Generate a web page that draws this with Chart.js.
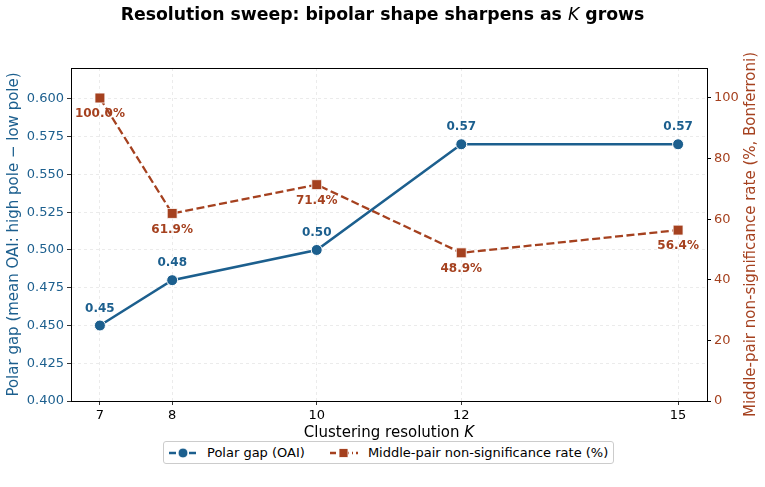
<!DOCTYPE html>
<html>
<head>
<meta charset="utf-8">
<script src="https://cdn.jsdelivr.net/npm/chart.js@4"></script>
<style>
  body { margin: 0; background: #fff; font-family: "DejaVu Sans", sans-serif; }
  #wrap { position: relative; width: 765px; height: 487px; }
  #chart { position: absolute; left: 0; top: 0; }
  #title { position: absolute; left: 0; top: 4px; width: 765px; text-align: center;
           font-weight: bold; font-size: 17.3px; color: #000; }
  #title i { font-weight: normal; }
  #legend { position: absolute; left: 163px; top: 441px; width: 449px; height: 21px;
            border: 1px solid #cccccc; border-radius: 3px; background: #fff;
            font-size: 13px; display: flex; align-items: center; color: #000; }
  #legend span.item { display: inline-flex; align-items: center; margin-left: 4px; }
  #legend svg { margin-right: 9px; }
</style>
</head>
<body>
<div id="wrap">
  <canvas id="chart" width="765" height="487"></canvas>
  <div id="title">Resolution sweep: bipolar shape sharpens as <i>K</i> grows</div>
  <div id="legend">
    <span class="item"><svg width="30" height="12"><line x1="1" y1="6" x2="29" y2="6" stroke="#1c5f8e" stroke-width="2.5" stroke-dasharray="7,3"/><circle cx="15" cy="6" r="5" fill="#1c5f8e" stroke="#fff" stroke-width="1"/></svg>Polar gap (OAI)</span>
    <span class="item" style="margin-left:24px"><svg width="30" height="12"><line x1="1" y1="6" x2="29" y2="6" stroke="#a5411f" stroke-width="2.3" stroke-dasharray="6,3,1,3"/><rect x="10" y="1.5" width="9" height="9" fill="#a5411f" stroke="#fff" stroke-width="0.8"/></svg>Middle-pair non-significance rate (%)</span>
  </div>
</div>
<script>
// Resolution sweep data
const kValues = [7, 8, 10, 12, 15];
const polarGap = [0.45, 0.48, 0.50, 0.57, 0.57];
const nonSigRate = [100.0, 61.9, 71.4, 48.9, 56.4];
const leftTicks = [0.400, 0.425, 0.450, 0.475, 0.500, 0.525, 0.550, 0.575, 0.600];
const rightTicks = [0, 20, 40, 60, 80, 100];

const BLUE = '#1c5f8e';
const RED = '#a5411f';
const FONT = '"DejaVu Sans", sans-serif';

// point value labels + frame + axis titles
const extras = {
    id: 'extras',
    afterDatasetsDraw(chart) {
        const ctx = chart.ctx;
        ctx.save();
        ctx.font = 'bold 12px ' + FONT;
        ctx.textAlign = 'center';
        ctx.textBaseline = 'middle';
        chart.getDatasetMeta(0).data.forEach((pt, i) => {
            ctx.fillStyle = BLUE;
            ctx.fillText(polarGap[i].toFixed(2), pt.x, pt.y - 17);
        });
        chart.getDatasetMeta(1).data.forEach((pt, i) => {
            ctx.fillStyle = RED;
            ctx.fillText(nonSigRate[i].toFixed(1) + '%', pt.x, pt.y + 16);
        });
        ctx.restore();
    },
    afterDraw(chart) {
        const ctx = chart.ctx;
        const a = chart.chartArea;
        ctx.save();
        ctx.strokeStyle = '#000';
        ctx.lineWidth = 1;
        ctx.strokeRect(a.left + 0.5, a.top + 0.5, a.right - a.left, a.bottom - a.top);

        // x title with italic K
        ctx.fillStyle = '#000';
        ctx.textBaseline = 'middle';
        const base = 'Clustering resolution ';
        ctx.font = '15px ' + FONT;
        const w1 = ctx.measureText(base).width;
        ctx.font = 'italic 15px ' + FONT;
        const w2 = ctx.measureText('K').width;
        let x0 = (a.left + a.right) / 2 - (w1 + w2) / 2;
        ctx.font = '15px ' + FONT;
        ctx.textAlign = 'left';
        ctx.fillText(base, x0, 433);
        ctx.font = 'italic 15px ' + FONT;
        ctx.fillText('K', x0 + w1, 433);

        // y titles
        ctx.font = '15px ' + FONT;
        ctx.textAlign = 'center';
        ctx.save();
        ctx.translate(14, (a.top + a.bottom) / 2);
        ctx.rotate(-Math.PI / 2);
        ctx.fillStyle = BLUE;
        ctx.fillText('Polar gap (mean OAI: high pole \u2212 low pole)', 0, 0);
        ctx.restore();
        ctx.save();
        ctx.translate(751, (a.top + a.bottom) / 2);
        ctx.rotate(-Math.PI / 2);
        ctx.fillStyle = RED;
        ctx.fillText('Middle-pair non-significance rate (%, Bonferroni)', 0, 0);
        ctx.restore();
        ctx.restore();
    }
};

new Chart(document.getElementById('chart'), {
    type: 'line',
    data: {
        datasets: [{
            label: 'Polar gap (OAI)',
            data: kValues.map((k, i) => ({ x: k, y: polarGap[i] })),
            yAxisID: 'y',
            borderColor: BLUE,
            backgroundColor: BLUE,
            borderWidth: 2.5,
            pointStyle: 'circle',
            pointRadius: 5.5,
            pointBorderColor: '#fff',
            pointBorderWidth: 1,
            tension: 0
        }, {
            label: 'Middle-pair non-significance rate (%)',
            data: kValues.map((k, i) => ({ x: k, y: nonSigRate[i] })),
            yAxisID: 'y2',
            borderColor: RED,
            backgroundColor: RED,
            borderWidth: 2.3,
            borderDash: [8, 3.5],
            pointStyle: 'rect',
            pointRadius: 7,
            pointBorderColor: '#fff',
            pointBorderWidth: 0.8,
            tension: 0
        }]
    },
    options: {
        responsive: false,
        animation: false,
        layout: { padding: { top: 68, left: 0, right: 0, bottom: 0 } },
        plugins: {
            legend: { display: false },
            tooltip: { enabled: false }
        },
        scales: {
            x: {
                type: 'linear',
                min: 6.6,
                max: 15.4,
                afterBuildTicks: s => { s.ticks = kValues.map(v => ({ value: v })); },
                afterFit: s => { s.height = 86; },
                ticks: { color: '#000', font: { family: FONT, size: 13 }, padding: 3, maxRotation: 0 },
                grid: { color: '#e6e6e6', tickColor: '#000', tickLength: 4, lineWidth: 0.8 },
                border: { color: '#000', width: 1, dash: [3, 3] }
            },
            y: {
                position: 'left',
                min: 0.4,
                max: 0.6205,
                afterBuildTicks: s => { s.ticks = leftTicks.map(v => ({ value: v })); },
                afterFit: s => { s.width = 71; },
                ticks: { color: BLUE, font: { family: FONT, size: 13 }, padding: 3,
                         callback: v => v.toFixed(3) },
                grid: { color: '#e6e6e6', tickColor: '#000', tickLength: 4, lineWidth: 0.8 },
                border: { color: '#000', width: 1, dash: [3, 3] }
            },
            y2: {
                position: 'right',
                min: 0,
                max: 109.9,
                afterBuildTicks: s => { s.ticks = rightTicks.map(v => ({ value: v })); },
                afterFit: s => { s.width = 58; },
                ticks: { color: RED, font: { family: FONT, size: 13 }, padding: 3 },
                grid: { drawOnChartArea: false, color: '#000', tickColor: '#000', tickLength: 4 },
                border: { color: '#000', width: 1 }
            }
        }
    },
    plugins: [extras]
});
</script>
</body>
</html>
